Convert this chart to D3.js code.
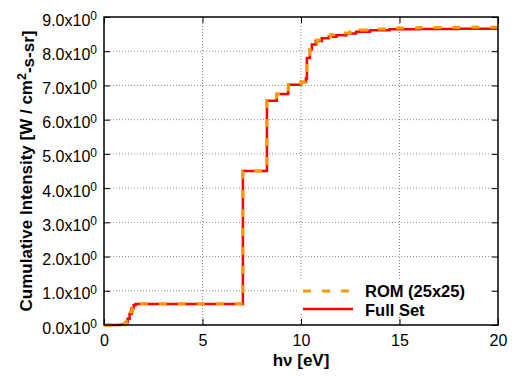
<!DOCTYPE html>
<html>
<head>
<meta charset="utf-8">
<script src="https://cdn.jsdelivr.net/npm/d3@7"></script>
<style>
  html, body { margin: 0; padding: 0; background: #fff; }
  svg { display: block; font-family: "Liberation Sans", Arial, Helvetica, sans-serif; }
</style>
</head>
<body>
<svg id="chart" width="515" height="376"></svg>
<script>
// Cumulative intensity vs photon energy: full spectral set and reduced-order model
const fullEnergy    = [0, 0.8, 1.0, 1.1, 1.2, 1.3, 1.4, 1.5, 1.6, 3.0, 7.05, 8.27, 8.77, 9.35, 10.0, 10.25, 10.3, 10.45, 10.55, 10.75, 11.05, 11.4, 11.8, 12.3, 12.8, 13.5, 14.5, 16.0, 18.0, 20.0];
const fullIntensity = [0, 0.01, 0.03, 0.08, 0.18, 0.33, 0.48, 0.58, 0.61, 0.615, 4.5, 6.55, 6.75, 7.02, 7.1, 7.2, 7.8, 8.05, 8.2, 8.3, 8.38, 8.42, 8.47, 8.52, 8.57, 8.61, 8.64, 8.65, 8.66, 8.66];

const romEnergy     = [0, 0.9, 1.05, 1.15, 1.25, 1.35, 1.45, 1.55, 1.65, 7.05, 8.27, 8.77, 9.35, 10.0, 10.25, 10.3, 10.45, 10.6, 10.8, 11.1, 11.5, 12.0, 12.5, 13.0, 13.7, 14.5, 16.0, 18.0, 20.0];
const romIntensity  = [0, 0.01, 0.04, 0.1, 0.22, 0.38, 0.5, 0.58, 0.62, 4.5, 6.55, 6.75, 7.02, 7.1, 7.2, 7.75, 8.05, 8.22, 8.33, 8.42, 8.48, 8.53, 8.58, 8.62, 8.65, 8.68, 8.69, 8.7, 8.7];

const xTicks = [0, 5, 10, 15, 20];
const yTicks = [0, 1, 2, 3, 4, 5, 6, 7, 8, 9];

const seriesNames = ["ROM (25x25)", "Full Set"];

const svg = d3.select("#chart");
const W = 515, H = 376;
const m = { left: 104, right: 17, top: 17, bottom: 51 };
const iw = W - m.left - m.right, ih = H - m.top - m.bottom;

const x = d3.scaleLinear().domain([0, 20]).range([0, iw]);
const y = d3.scaleLinear().domain([0, 9]).range([ih, 0]);

const g = svg.append("g").attr("transform", `translate(${m.left},${m.top})`);

// dotted grid
const grid = g.append("g").attr("stroke", "#8a8a8a").attr("stroke-width", 1).attr("stroke-dasharray", "1,2");
grid.selectAll(".gx").data(xTicks.slice(1, -1)).join("line")
  .attr("x1", d => x(d)).attr("x2", d => x(d)).attr("y1", 0).attr("y2", ih);
grid.selectAll(".gy").data(yTicks.slice(1, -1)).join("line")
  .attr("x1", 0).attr("x2", iw).attr("y1", d => y(d)).attr("y2", d => y(d));

// axes with inward ticks, mirrored on all four sides
const tickLen = 6;
const xAxisB = d3.axisBottom(x).tickValues(xTicks).tickSize(-tickLen).tickPadding(10);
const xAxisT = d3.axisTop(x).tickValues(xTicks).tickSize(-tickLen).tickFormat("");
const yAxisL = d3.axisLeft(y).tickValues(yTicks).tickSize(-tickLen).tickFormat("");
const yAxisR = d3.axisRight(y).tickValues(yTicks).tickSize(-tickLen).tickFormat("");

const styleAxis = sel => {
  sel.select(".domain").remove();
  sel.selectAll(".tick line").attr("stroke", "#000").attr("stroke-width", 1);
};

const gxB = g.append("g").attr("transform", `translate(0,${ih})`).call(xAxisB).call(styleAxis);
gxB.selectAll(".tick text").attr("font-size", 16).attr("fill", "#000")
  .attr("font-family", "Liberation Sans, Arial, sans-serif");
g.append("g").call(xAxisT).call(styleAxis);
const gyL = g.append("g").call(yAxisL).call(styleAxis);
g.append("g").attr("transform", `translate(${iw},0)`).call(yAxisR).call(styleAxis);

// y tick labels as mantissa x 10^exponent
gyL.selectAll(".tick").each(function(d) {
  const t = d3.select(this).append("text")
    .attr("x", -7).attr("dy", "0.5em")
    .attr("text-anchor", "end").attr("fill", "#000").attr("font-size", 16)
    .attr("font-family", "Liberation Sans, Arial, sans-serif");
  t.append("tspan").text(d.toFixed(1) + "x10");
  t.append("tspan").attr("dy", "-0.45em").attr("font-size", 12).text("0");
});

// curves
const line = (xs, ys) => d3.line().curve(d3.curveStepAfter)
  .x((d, i) => x(xs[i])).y((d, i) => y(ys[i]))(xs);

g.append("path").attr("d", line(fullEnergy, fullIntensity))
  .attr("fill", "none").attr("stroke", "#ff0000").attr("stroke-width", 2.5);
g.append("path").attr("d", line(romEnergy, romIntensity))
  .attr("fill", "none").attr("stroke", "#ff9900").attr("stroke-width", 3)
  .attr("stroke-dasharray", "8,11");

// legend with opaque background
const lg = g.append("g").attr("transform", `translate(${303 - m.left},${291 - m.top})`);
lg.append("rect").attr("x", -4).attr("y", -10).attr("width", 190).attr("height", 31).attr("fill", "#fff");
lg.append("line").attr("x1", 0).attr("x2", 50).attr("y1", 0).attr("y2", 0)
  .attr("stroke", "#ff9900").attr("stroke-width", 3).attr("stroke-dasharray", "8,11");
lg.append("line").attr("x1", 0).attr("x2", 50).attr("y1", 18).attr("y2", 18)
  .attr("stroke", "#ff0000").attr("stroke-width", 2.5);
lg.selectAll("text").data(seriesNames).join("text")
  .attr("x", 62).attr("y", (d, i) => i * 19 + 5.5)
  .attr("font-size", 16.5).attr("font-weight", "bold").attr("fill", "#000")
  .text(d => d);

// frame
g.append("rect").attr("width", iw).attr("height", ih)
  .attr("fill", "none").attr("stroke", "#000").attr("stroke-width", 1.5);

// axis titles
svg.append("text").attr("x", m.left + iw / 2).attr("y", 366)
  .attr("text-anchor", "middle").attr("font-size", 17).attr("font-weight", "bold")
  .text("hν [eV]");

const yt = svg.append("text")
  .attr("transform", `translate(32,${m.top + ih / 2 + 0}) rotate(-90)`)
  .attr("text-anchor", "middle").attr("font-size", 17).attr("font-weight", "bold");
yt.append("tspan").text("Cumulative Intensity [W / cm");
yt.append("tspan").attr("dy", "-0.45em").attr("font-size", 12.5).text("2");
yt.append("tspan").attr("dy", "0.45em").text("-s-sr]");
</script>
</body>
</html>
